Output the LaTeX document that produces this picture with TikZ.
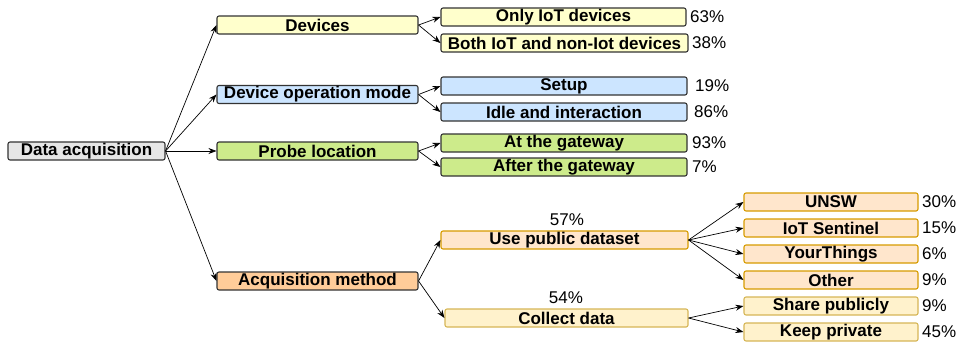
\documentclass[tikz,border=0pt]{standalone}
\usepackage{fontspec}
\setmainfont{Liberation Sans}
\usetikzlibrary{arrows.meta}
\definecolor{cgray}{HTML}{E6E6E6}
\definecolor{cyel}{HTML}{FFFFCC}
\definecolor{cblue}{HTML}{CCE5FF}
\definecolor{cgreen}{HTML}{CDEB8B}
\definecolor{corange}{HTML}{FFCC99}
\definecolor{cpeach}{HTML}{FFE6CC}
\definecolor{cpeachb}{HTML}{D79B00}
\definecolor{clyel}{HTML}{FFF2CC}
\definecolor{clyelb}{HTML}{D6B656}
\definecolor{cborder}{HTML}{333333}
\tikzset{
  box/.style={draw=cborder, line width=1.1pt, rounded corners=2pt, inner sep=0pt,
    minimum height=18pt, font=\fontsize{17}{20}\selectfont\bfseries},
  pbox/.style={box, fill=cpeach, draw=cpeachb},
  ybox/.style={box, fill=clyel, draw=clyelb},
  pct/.style={anchor=west, inner sep=0pt, font=\fontsize{17}{20}\selectfont},
  pctc/.style={inner sep=0pt, font=\fontsize{17}{20}\selectfont},
  arr/.style={-{Stealth[length=8pt,width=6pt]}, line width=0.7pt, black},
}
\begin{document}
\begin{tikzpicture}[x=1pt,y=-1pt]
\useasboundingbox (0,0) rectangle (959,346);
% level 0
\node[box, fill=cgray, minimum width=157pt] (da) at (86.5,151) {Data acquisition};
% level 1
\node[box, fill=cyel, minimum width=201pt] (dev) at (317.5,25) {Devices};
\node[box, fill=cblue, minimum width=201pt] (dom) at (317.5,94.5) {Device operation mode};
\node[box, fill=cgreen, minimum width=201pt] (pl) at (317.5,151) {Probe location};
\node[box, fill=corange, minimum width=201pt] (am) at (317.5,281) {Acquisition method};
% level 2
\node[box, fill=cyel, minimum width=245pt] (oi) at (563.5,17) {Only IoT devices};
\node[box, fill=cyel, minimum width=247pt] (both) at (564.5,43) {Both IoT and non-Iot devices};
\node[box, fill=cblue, minimum width=246pt] (setup) at (564,86) {Setup};
\node[box, fill=cblue, minimum width=246pt] (idle) at (564,112) {Idle and interaction};
\node[box, fill=cgreen, minimum width=246pt] (atg) at (564,143) {At the gateway};
\node[box, fill=cgreen, minimum width=246pt] (aftg) at (564,167) {After the gateway};
\node[pbox, minimum width=247pt] (upd) at (564.5,240) {Use public dataset};
\node[ybox, minimum width=243pt] (cd) at (566.5,318) {Collect data};
% level 3
\node[pbox, minimum width=174pt] (unsw) at (831,202) {UNSW};
\node[pbox, minimum width=174pt] (sent) at (831,228) {IoT Sentinel};
\node[pbox, minimum width=174pt] (yt) at (831,254) {YourThings};
\node[pbox, minimum width=174pt] (oth) at (831,280) {Other};
\node[ybox, minimum width=174pt] (sp) at (831,306) {Share publicly};
\node[ybox, minimum width=174pt] (kp) at (831,332) {Keep private};
% percentages
\node[pct] (p1) at (690,17) {63\%};
\node[pct] (p2) at (692,43) {38\%};
\node[pct] (p3) at (695,86) {19\%};
\node[pct] (p4) at (694,112) {86\%};
\node[pct] (p5) at (692,143) {93\%};
\node[pct] (p6) at (692,167) {7\%};
\node[pctc] (p7) at (567,220) {57\%};
\node[pctc] (p8) at (566,298) {54\%};
\node[pct] (p9) at (922,202) {30\%};
\node[pct] (p10) at (922,228) {15\%};
\node[pct] (p11) at (922,254) {6\%};
\node[pct] (p12) at (922,280) {9\%};
\node[pct] (p13) at (922,306) {9\%};
\node[pct] (p14) at (922,332) {45\%};
% connectors
\foreach \t in {dev,dom,pl,am} \draw[arr] (da.east) -- (\t.west);
\foreach \t in {oi,both} \draw[arr] (dev.east) -- (\t.west);
\foreach \t in {setup,idle} \draw[arr] (dom.east) -- (\t.west);
\foreach \t in {atg,aftg} \draw[arr] (pl.east) -- (\t.west);
\foreach \t in {upd,cd} \draw[arr] (am.east) -- (\t.west);
\foreach \t in {unsw,sent,yt,oth} \draw[arr] (upd.east) -- (\t.west);
\foreach \t in {sp,kp} \draw[arr] (cd.east) -- (\t.west);
\end{tikzpicture}
\end{document}
